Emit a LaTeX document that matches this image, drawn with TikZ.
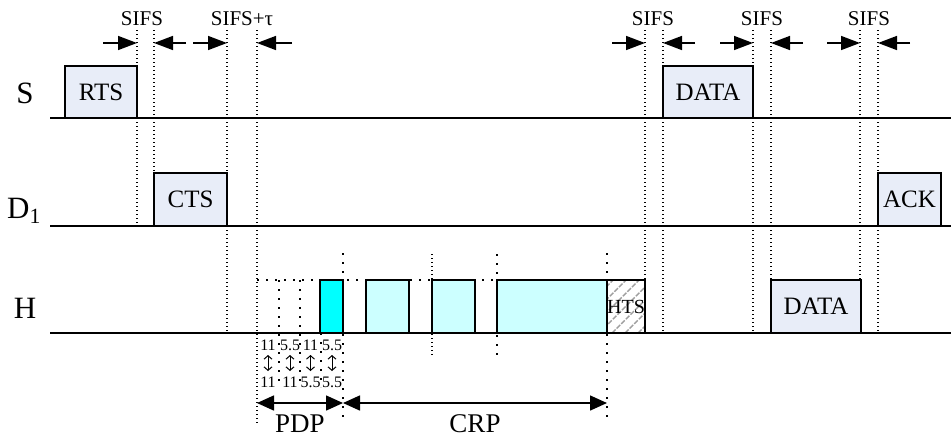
\documentclass[tikz,border=0pt]{standalone}
\usepackage{fontspec}
\setmainfont{Liberation Serif}
\usetikzlibrary{arrows.meta,calc}
\definecolor{boxblue}{HTML}{E8EDF8}
\definecolor{lcyan}{HTML}{CCFFFF}
\definecolor{bcyan}{HTML}{00FFFF}
\begin{document}
\begin{tikzpicture}[x=1pt,y=-1pt,
 timeline/.style={line width=1.6pt},
 frame/.style={draw, line width=1.5pt, inner sep=0pt, outer sep=0pt, anchor=south west},
 msg/.style={frame, fill=boxblue, font=\fontsize{25}{29}\selectfont},
 slot/.style={frame, fill=lcyan},
 pslot/.style={frame, fill=bcyan},
 hatched/.style={frame, fill=white, font=\fontsize{20}{23}\selectfont,
   path picture={\foreach \k in {-60,-47,...,60}
     \draw[gray!75, line width=1.4pt, dash pattern=on 5pt off 1.5pt]
       ($(path picture bounding box.south west)+(\k,0)$) -- ++(60,-60);}},
 dense/.style={line width=1.4pt, dash pattern=on 1.4pt off 2.6pt},
 sparse/.style={line width=1.6pt, dash pattern=on 1.6pt off 7.4pt},
 gap/.style={-{Triangle[length=19pt,width=14pt]}, line width=1.5pt},
 span/.style={{Triangle[length=17pt,width=15pt]}-{Triangle[length=17pt,width=15pt]}, line width=1.5pt},
 updn/.style={{Straight Barb[length=3.5pt,width=8pt]}-{Straight Barb[length=3.5pt,width=8pt]}, line width=1pt},
 lbl/.style={font=\fontsize{31}{35}\selectfont, anchor=base},
 sifs/.style={font=\fontsize{21}{24}\selectfont, anchor=base},
 num/.style={font=\fontsize{16}{18}\selectfont, anchor=base, inner sep=0pt},
 big/.style={font=\fontsize{27}{30}\selectfont, anchor=base},
]
\useasboundingbox (0,0) rectangle (951,437);

% station labels
\node[lbl] (ls) at (25,103) {S};
\node[lbl] (ld) at (24,218) {D\textsubscript{1}};
\node[lbl] (lh) at (25,318) {H};

% dotted guides (dense)
\foreach \x/\yb in {137/226,154/226,227/333,257/423,645/333,663/333,753/333,771/333,860/333,878/333}
  \draw[dense] (\x,30) -- (\x,\yb);
% H-row guides (sparse)
\draw[sparse] (257,280) -- (607,280);
\foreach \x/\ya/\yb in {279/280/387,300/280/387,321/333/387,343/253/423,497/254/357,607/253/423}
  \draw[sparse] (\x,\ya) -- (\x,\yb);
\draw[dense] (432,254) -- (432,357);

% timelines
\coordinate (s0) at (50,118); \coordinate (s1) at (951,118);
\coordinate (d0) at (50,226); \coordinate (d1) at (951,226);
\coordinate (h0) at (50,333); \coordinate (h1) at (951,333);
\draw[timeline] (s0) -- (s1);
\draw[timeline] (d0) -- (d1);
\draw[timeline] (h0) -- (h1);

% frames
\node[msg, minimum width=72pt, minimum height=52pt] (rts) at (65,118) {RTS};
\node[msg, minimum width=73pt, minimum height=53pt] (cts) at (154,226) {CTS};
\node[msg, minimum width=90pt, minimum height=52pt] (datas) at (663,118) {DATA};
\node[msg, minimum width=63pt, minimum height=53pt] (ack) at (878,226) {ACK};
\node[msg, minimum width=90pt, minimum height=53pt] (datah) at (771,333) {DATA};
\node[pslot, minimum width=23pt, minimum height=53pt] (p1) at (320,333) {};
\node[slot, minimum width=43pt, minimum height=53pt] (c1) at (366,333) {};
\node[slot, minimum width=43pt, minimum height=53pt] (c2) at (432,333) {};
\node[slot, minimum width=110pt, minimum height=53pt] (c3) at (497,333) {};
\node[hatched, minimum width=38pt, minimum height=53pt] (hts) at (607,333) {HTS};

% SIFS gap arrows
\foreach \a/\b [count=\i] in {103/137,186/154,193/227,292/257,612/645,695/663,720/753,803/771,827/860,910/878}{
  \coordinate (ga\i) at (\a,43); \coordinate (gb\i) at (\b,43);
  \draw[gap] (ga\i) -- (gb\i);}
\node[sifs] (sf1) at (142,25) {SIFS};
\node[sifs] (sf2) at (242,25) {SIFS+τ};
\node[sifs] (sf3) at (653,25) {SIFS};
\node[sifs] (sf4) at (762,25) {SIFS};
\node[sifs] (sf5) at (869,25) {SIFS};

% rates
\foreach \x/\t/\b [count=\i] in {268/11/11,290/5.5/11,310.5/11/5.5,332/5.5/5.5}{
  \node[num] (rt\i) at (\x,350) {\t};
  \node[num] (rb\i) at (\x,387) {\b};
  \coordinate (ua\i) at (\x,355); \coordinate (ub\i) at (\x,371);
  \draw[updn] (ua\i) -- (ub\i);}

% PDP / CRP spans
\coordinate (pa) at (257,403); \coordinate (pb) at (343,403); \coordinate (pc) at (607,403);
\draw[span] (pa) -- (pb);
\draw[span] (pb) -- (pc);
\node[big] (pdp) at (300,432) {PDP};
\node[big] (crp) at (475,432) {CRP};
\end{tikzpicture}
\end{document}
